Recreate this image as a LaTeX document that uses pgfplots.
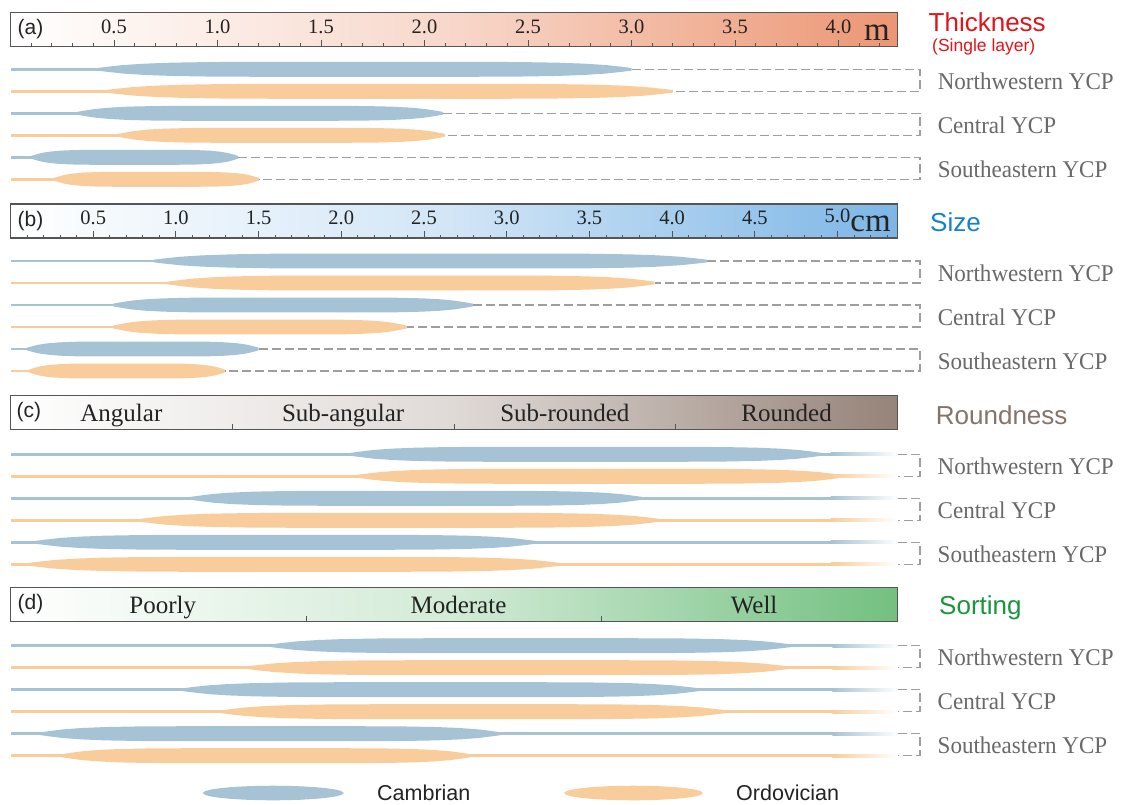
\documentclass[border=0pt]{standalone}
\usepackage{pgfplots}
\pgfplotsset{compat=1.18}
\usepackage{fontspec}
\setmainfont{Liberation Serif}
\newfontfamily\sansf{Liberation Sans}
\newfontfamily\regf[FakeStretch=0.96]{Liberation Serif}

\definecolor{blueS}{RGB}{165,195,212}
\definecolor{orangeS}{RGB}{248,205,155}
\definecolor{dashc}{RGB}{158,158,158}
\definecolor{labc}{RGB}{105,105,105}
\definecolor{boxc}{RGB}{85,85,85}
\definecolor{hdrtext}{RGB}{35,35,35}
\definecolor{hdrA}{RGB}{236,150,115}
\definecolor{hdrB}{RGB}{125,182,230}
\definecolor{hdrC}{RGB}{150,131,121}
\definecolor{hdrD}{RGB}{115,192,128}
\definecolor{titA}{RGB}{225,20,25}
\definecolor{titB}{RGB}{20,130,200}
\definecolor{titC}{RGB}{135,115,105}
\definecolor{titD}{RGB}{25,150,60}

% spindle geometry (row units)
\newcommand\spH{0.34}
\newcommand\spT{0.061}
\def\profSpindle{0/0.18,0.02/0.35,0.05/0.58,0.09/0.76,0.14/0.89,0.21/0.97,0.30/1,0.70/1,0.79/0.97,0.86/0.89,0.91/0.76,0.95/0.58,0.98/0.35,1/0.18}
\def\profEll{0/0,0.02/0.28,0.06/0.475,0.12/0.65,0.2/0.8,0.3/0.917,0.4/0.98,0.5/1,0.6/0.98,0.7/0.917,0.8/0.8,0.88/0.65,0.94/0.475,0.98/0.28,1/0}
\let\spprof\profSpindle

% body of a spindle: row, xs, xe, colour
\newcommand\spbody[4]{%
  \gdef\sptop{}\gdef\spbot{}%
  \foreach \f/\hh in \spprof {%
    \pgfmathsetmacro\px{#2+\f*(#3-#2)}%
    \pgfmathsetmacro\ya{#1-\hh*\spH}%
    \pgfmathsetmacro\yb{#1+\hh*\spH}%
    \xdef\sptop{\sptop(\px,\ya)}%
    \xdef\spbot{(\px,\yb)\spbot}%
  }%
  \edef\sptmp{\noexpand\addplot[fill=#4,draw=none] coordinates {\sptop\spbot};}%
  \sptmp}
% thin tail: row, xa, xb, options
\newcommand\sprect[4]{%
  \pgfmathsetmacro\ya{#1-\spT}\pgfmathsetmacro\yb{#1+\spT}%
  \edef\sptmp{\noexpand\addplot[draw=none,#4] coordinates {(#2,\ya)(#3,\ya)(#3,\yb)(#2,\yb)};}%
  \sptmp}
% spindle with left tail from 0: row, xs, xe, colour
\newcommand\spnd[4]{%
  \pgfmathsetmacro\xo{#2+0.02*(#3-#2)}%
  \sprect{#1}{0}{\xo}{fill=#4}%
  \spbody{#1}{#2}{#3}{#4}}
% spindle with right fading tail: row, xs, xe, x1, fade, colour
\newcommand\spR[6]{%
  \spnd{#1}{#2}{#3}{#6}%
  \pgfmathsetmacro\xp{#3-0.02*(#3-#2)}%
  \pgfmathsetmacro\xq{#4-#5}%
  \pgfmathsetmacro\xr{\xq+0.01}%
  \sprect{#1}{\xp}{\xr}{fill=#6}%
  \sprect{#1}{\xq}{#4}{left color=#6,right color=white}}
% dashed bracket: rowC, xeC, rowO, xeO, xb
\newcommand\spbrk[5]{%
  \addplot[color=dashc, line width=1.3pt, dash pattern=on 9pt off 4pt] coordinates {(#2,#1)(#5,#1)(#5,#3)(#4,#3)};}

\pgfplotsset{
  hdr/.style={anchor=north west, y=34pt, ymin=0, ymax=1, ytick=\empty,
    xtick pos=left, tick align=inside,
    axis line style={draw=boxc, line width=1.3pt},
    tick style={draw=boxc, line width=0.9pt},
    major tick length=7pt, minor tick length=3.5pt},
  numlab/.style={xticklabel style={anchor=base, yshift=13.3pt, font=\fontsize{20.5}{20.5}\selectfont, text=hdrtext}},
  catlab/.style={xticklabel style={anchor=base, yshift=8pt, font=\fontsize{25}{25}\selectfont, text=hdrtext}},
  bodyax/.style={anchor=north west, hide axis, clip=false, y=22pt, y dir=reverse, ymin=0.5, ymax=6.5, xmin=0},
}
\tikzset{
  reglab/.style={anchor=base west, inner sep=0pt, xshift=17.5pt, yshift=-9pt, text=labc, font=\regf\fontsize{24}{24}\selectfont},
  plab/.style={anchor=west, inner sep=0pt, font=\sansf\fontsize{21}{21}\selectfont, text=hdrtext},
}

\begin{document}
\begin{tikzpicture}
\useasboundingbox (0,0) rectangle (1121pt,-804pt);
\fill[white] (0,0) rectangle (1121pt,-804pt);

% ---------------- (a) Thickness ----------------
\begin{axis}[hdr, numlab, at={(10.5pt,-12.5pt)}, x=207pt, xmin=0, xmax=4.285,
  axis background/.style={left color=white, right color=hdrA, middle color=hdrA!38!white},
  xtick={0,0.5,1,1.5,2,2.5,3,3.5,4},
  xticklabels={,0.5,1.0,1.5,2.0,2.5,3.0,3.5,4.0},
  minor xtick={0.1,0.2,...,4.2}]
\node[plab] at (rel axis cs:0,0.5) [xshift=7pt] {(a)};
\end{axis}
\begin{axis}[bodyax, x=207pt, xmax=4.394, at={(10.5pt,-58.3pt)}]
\spnd{1}{0.42}{3.0}{blueS}
\spnd{2}{0.46}{3.2}{orangeS}
\spnd{3}{0.32}{2.09}{blueS}
\spnd{4}{0.52}{2.1}{orangeS}
\spnd{5}{0.10}{1.1}{blueS}
\spnd{6}{0.21}{1.2}{orangeS}
\spbrk{1}{3.0}{2}{3.2}{4.394}
\spbrk{3}{2.09}{4}{2.1}{4.394}
\spbrk{5}{1.1}{6}{1.2}{4.394}
\node[reglab] at (axis cs:4.394,1.5) {Northwestern YCP};
\node[reglab] at (axis cs:4.394,3.5) {Central YCP};
\node[reglab] at (axis cs:4.394,5.5) {Southeastern YCP};
\end{axis}

% ---------------- (b) Size ----------------
\begin{axis}[hdr, numlab, at={(10.5pt,-204pt)}, x=165.4pt, xmin=0, xmax=5.363,
  axis background/.style={left color=white, right color=hdrB, middle color=hdrB!35!white},
  xtick={0,0.5,1,1.5,2,2.5,3,3.5,4,4.5,5},
  xticklabels={,0.5,1.0,1.5,2.0,2.5,3.0,3.5,4.0,4.5,\raisebox{2.5pt}{5.0}},
  minor xtick={0.1,0.2,...,5.3}]
\node[plab] at (rel axis cs:0,0.5) [xshift=7pt] {(b)};
\end{axis}
\begin{axis}[bodyax, x=165.4pt, xmax=5.499, at={(10.5pt,-250pt)}]
\spnd{1}{0.865}{4.21}{blueS}
\spnd{2}{0.95}{3.895}{orangeS}
\spnd{3}{0.62}{2.796}{blueS}
\spnd{4}{0.62}{2.397}{orangeS}
\spnd{5}{0.10}{1.5}{blueS}
\spnd{6}{0.11}{1.297}{orangeS}
\spbrk{1}{4.21}{2}{3.895}{5.499}
\spbrk{3}{2.796}{4}{2.397}{5.499}
\spbrk{5}{1.5}{6}{1.297}{5.499}
\node[reglab] at (axis cs:5.499,1.5) {Northwestern YCP};
\node[reglab] at (axis cs:5.499,3.5) {Central YCP};
\node[reglab] at (axis cs:5.499,5.5) {Southeastern YCP};
\end{axis}

% ---------------- (c) Roundness ----------------
\begin{axis}[hdr, catlab, at={(10.5pt,-395.5pt)}, x=221.75pt, xmin=0, xmax=4,
  axis background/.style={left color=white, right color=hdrC, middle color=hdrC!30!white},
  xtick={1,2,3}, xticklabels={}, major tick length=6pt,
  extra x ticks={0.5,1.5,2.5,3.5},
  extra x tick labels={Angular,Sub-angular,Sub-rounded,Rounded},
  extra x tick style={tick style={draw=none}}]
\node[plab] at (rel axis cs:0,0.5) [xshift=6pt] {(c)};
\end{axis}
\begin{axis}[bodyax, x=221.75pt, xmax=4.1015, at={(10.5pt,-443.3pt)}]
\spR{1}{1.53}{3.66}{4}{0.3}{blueS}
\spR{2}{1.56}{3.75}{4}{0.3}{orangeS}
\spR{3}{0.81}{2.85}{4}{0.3}{blueS}
\spR{4}{0.58}{2.93}{4}{0.3}{orangeS}
\spR{5}{0.11}{2.37}{4}{0.3}{blueS}
\spR{6}{0.08}{2.48}{4}{0.3}{orangeS}
\spbrk{1}{4}{2}{4}{4.1015}
\spbrk{3}{4}{4}{4}{4.1015}
\spbrk{5}{4}{6}{4}{4.1015}
\node[reglab] at (axis cs:4.1015,1.5) {Northwestern YCP};
\node[reglab] at (axis cs:4.1015,3.5) {Central YCP};
\node[reglab] at (axis cs:4.1015,5.5) {Southeastern YCP};
\end{axis}

% ---------------- (d) Sorting ----------------
\begin{axis}[hdr, catlab, at={(10.5pt,-587.5pt)}, x=295.67pt, xmin=0, xmax=3,
  axis background/.style={left color=white, right color=hdrD, middle color=hdrD!32!white},
  xtick={1,2}, xticklabels={}, major tick length=6pt,
  extra x ticks={0.515,1.515,2.515},
  extra x tick labels={Poorly,Moderate,Well},
  extra x tick style={tick style={draw=none}}]
\node[plab] at (rel axis cs:0,0.5) [xshift=7pt] {(d)};
\end{axis}
\begin{axis}[bodyax, x=295.67pt, xmax=3.076, at={(10.5pt,-634.7pt)}]
\spR{1}{0.88}{2.64}{3}{0.22}{blueS}
\spR{2}{0.80}{2.63}{3}{0.22}{orangeS}
\spR{3}{0.58}{2.33}{3}{0.22}{blueS}
\spR{4}{0.71}{2.42}{3}{0.22}{orangeS}
\spR{5}{0.10}{1.66}{3}{0.22}{blueS}
\spR{6}{0.17}{1.56}{3}{0.22}{orangeS}
\spbrk{1}{3}{2}{3}{3.076}
\spbrk{3}{3}{4}{3}{3.076}
\spbrk{5}{3}{6}{3}{3.076}
\node[reglab] at (axis cs:3.076,1.5) {Northwestern YCP};
\node[reglab] at (axis cs:3.076,3.5) {Central YCP};
\node[reglab] at (axis cs:3.076,5.5) {Southeastern YCP};
\end{axis}

% ---------------- legend ----------------
\begin{axis}[anchor=north west, at={(0pt,-780pt)}, hide axis, clip=false,
  x=1pt, y=1pt, y dir=reverse, xmin=0, xmax=1121, ymin=780, ymax=806]
\let\spprof\profEll
\renewcommand\spH{7.3}
\spbody{793}{202.6}{343.8}{blueS}
\spbody{793}{564}{703}{orangeS}
\end{axis}

% ---------------- titles and units ----------------
\begin{scope}[every node/.style={inner sep=0pt}]
\node[anchor=base east, font=\fontsize{33}{33}\selectfont, text=hdrtext] at (890pt,-40.7pt) {m};
\node[anchor=base east, font=\fontsize{33}{33}\selectfont, text=hdrtext] at (891pt,-231.7pt) {cm};
\node[anchor=base west, font=\sansf\fontsize{26}{26}\selectfont, text=titA] at (928.5pt,-31.5pt) {Thickness};
\node[anchor=base west, font=\sansf\fontsize{17.5}{17.5}\selectfont, text=titA] at (932pt,-51pt) {(Single layer)};
\node[anchor=base west, font=\sansf\fontsize{26}{26}\selectfont, text=titB] at (930pt,-231pt) {Size};
\node[anchor=base west, font=\sansf\fontsize{26}{26}\selectfont, text=titC] at (935.7pt,-424pt) {Roundness};
\node[anchor=base west, font=\sansf\fontsize{26}{26}\selectfont, text=titD] at (939pt,-614.5pt) {Sorting};
\node[anchor=base west, font=\sansf\fontsize{21.5}{21.5}\selectfont, text=hdrtext] at (377pt,-800.7pt) {Cambrian};
\node[anchor=base west, font=\sansf\fontsize{21.5}{21.5}\selectfont, text=hdrtext] at (736pt,-800.7pt) {Ordovician};
\end{scope}
\end{tikzpicture}
\end{document}
